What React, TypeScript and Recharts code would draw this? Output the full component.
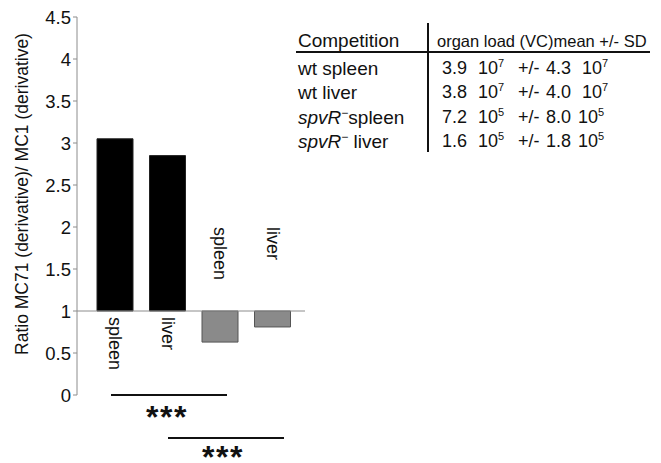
import { BarChart, Bar, XAxis, YAxis, Cell, LabelList, ReferenceLine } from "recharts";

const FONT = "'Liberation Sans', Arial, Helvetica, sans-serif";
const AXIS_GRAY = "#8c8c8c";

// bars: ratio MC71 / MC1, drawn from the 1.0 line
const categories = ["wt spleen", "wt liver", "spvR spleen", "spvR liver"];
const barLabels = ["spleen", "liver", "spleen", "liver"];
const ratios = [3.05, 2.85, 0.63, 0.81];
const BASE = 1;
const yTicks = [0, 0.5, 1, 1.5, 2, 2.5, 3, 3.5, 4, 4.5];

// organ load table
const tableRows = ["wt spleen", "wt liver", "spleen", " liver"];
const rowIsMutant = [false, false, true, true];
const meanValues = ["3.9", "3.8", "7.2", "1.6"];
const meanExp = ["7", "7", "5", "5"];
const sdValues = ["4.3", "4.0", "8.0", "1.8"];
const sdExp = ["7", "7", "5", "5"];

const data = categories.map((c, i) => ({
  name: c,
  range: [Math.min(BASE, ratios[i]), Math.max(BASE, ratios[i])],
}));

function BarName(props: any) {
  const { x, y, width, height, index } = props;
  const cx = x + width / 2;
  const up = ratios[index] >= BASE;
  const baseY = up ? y + height : y;
  const startY = up ? baseY + 6 : baseY - 84;
  return (
    <text
      x={cx}
      y={startY}
      transform={`rotate(90, ${cx}, ${startY})`}
      textAnchor="start"
      dominantBaseline="central"
      fontSize={18}
      fontFamily={FONT}
      fill="#111"
    >
      {barLabels[index]}
    </text>
  );
}

function YTitle() {
  const cx = 22;
  const cy = 194;
  return (
    <text
      x={cx}
      y={cy}
      transform={`rotate(-90, ${cx}, ${cy})`}
      textAnchor="middle"
      dominantBaseline="central"
      fontSize={17.5}
      fontFamily={FONT}
      fill="#111"
    >
      Ratio MC71 (derivative)/ MC1 (derivative)
    </text>
  );
}

function Overlay() {
  const rowY = [75, 99, 124, 148];
  return (
    <svg
      width={661}
      height={463}
      style={{ position: "absolute", left: 0, top: 0, pointerEvents: "none" }}
      fontFamily={FONT}
      fill="#111"
    >
      {/* significance bars */}
      <line x1={111} x2={227} y1={395} y2={395} stroke="#111" strokeWidth={2} />
      <text x={167} y={428} textAnchor="middle" fontSize={32} fontWeight="bold" letterSpacing={1.5}>
        ***
      </text>
      <line x1={168} x2={284} y1={438} y2={438} stroke="#111" strokeWidth={2} />
      <text x={223} y={468} textAnchor="middle" fontSize={32} fontWeight="bold" letterSpacing={1.5}>
        ***
      </text>

      {/* table */}
      <line x1={296} x2={650} y1={52} y2={52} stroke="#111" strokeWidth={2} />
      <line x1={428} x2={428} y1={23} y2={152} stroke="#111" strokeWidth={2} />
      <text x={298} y={47} fontSize={19}>
        Competition
      </text>
      <text x={437} y={47} fontSize={16.5}>
        organ load (VC)mean +/- SD
      </text>
      {tableRows.map((r, i) => (
        <g key={r + i}>
          {rowIsMutant[i] ? (
            <text x={298} y={rowY[i]} fontSize={19}>
              <tspan fontStyle="italic">spvR</tspan>
              <tspan dy={-7} fontSize={12}>
                −
              </tspan>
              <tspan dy={7} style={{ whiteSpace: "pre" }}>
                {r}
              </tspan>
            </text>
          ) : (
            <text x={298} y={rowY[i]} fontSize={19}>
              {r}
            </text>
          )}
          <text x={442} y={rowY[i] - 1} fontSize={18}>
            {meanValues[i]}
          </text>
          <text x={478} y={rowY[i] - 1} fontSize={18}>
            10
            <tspan dy={-7} fontSize={11}>
              {meanExp[i]}
            </tspan>
          </text>
          <text x={518} y={rowY[i] - 1} fontSize={18}>
            +/-
          </text>
          <text x={546} y={rowY[i] - 1} fontSize={18}>
            {sdValues[i]}
          </text>
          <text x={i < 2 ? 582 : 578} y={rowY[i] - 1} fontSize={18}>
            10
            <tspan dy={-7} fontSize={11}>
              {sdExp[i]}
            </tspan>
          </text>
        </g>
      ))}
    </svg>
  );
}

export default function App() {
  return (
    <div style={{ position: "absolute", left: 0, top: 0, width: 661, height: 463, background: "#fff" }}>
      <BarChart width={661} height={463} data={data} margin={{ top: 17, right: 356, bottom: 68, left: 0 }}>
        <XAxis dataKey="name" hide padding={{ left: 12, right: 6 }} />
        <YAxis
          width={77}
          domain={[0, 4.5]}
          ticks={yTicks}
          interval={0}
          tickSize={4}
          tickMargin={2}
          axisLine={{ stroke: AXIS_GRAY }}
          tickLine={{ stroke: AXIS_GRAY }}
          tick={{ fontSize: 18.5, fill: "#111", fontFamily: FONT }}
          label={<YTitle />}
        />
        <Bar dataKey="range" barSize={36} isAnimationActive={false}>
          {ratios.map((v, i) => (
            <Cell
              key={i}
              fill={v >= BASE ? "#000" : "#8a8a8a"}
              stroke={v >= BASE ? "#222" : "#555"}
              strokeWidth={1}
            />
          ))}
          <LabelList dataKey="range" content={<BarName />} />
        </Bar>
        <ReferenceLine y={BASE} stroke={AXIS_GRAY} strokeWidth={1} />
      </BarChart>
      <Overlay />
    </div>
  );
}
